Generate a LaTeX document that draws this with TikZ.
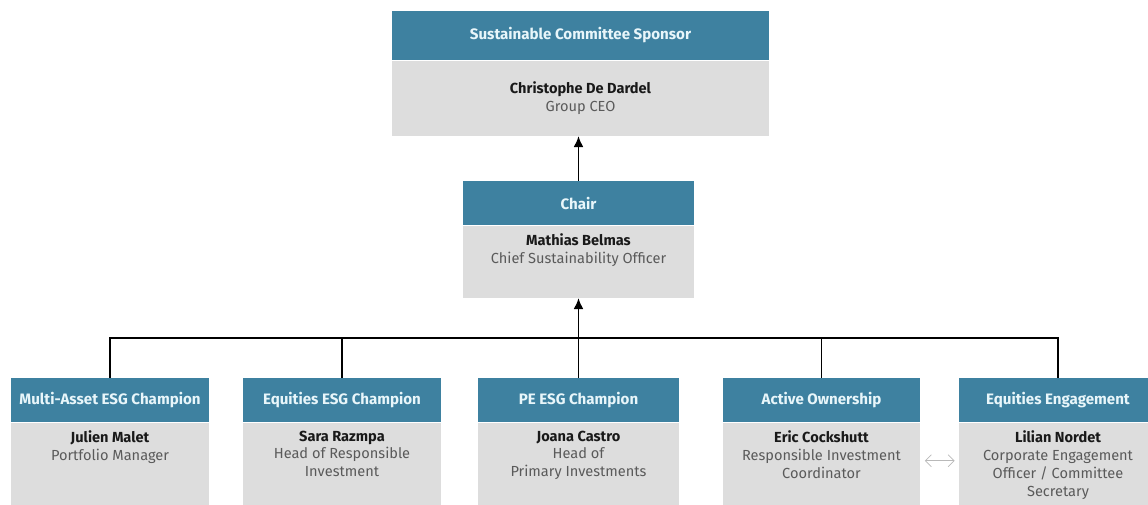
\documentclass[tikz,border=0pt]{standalone}
\usepackage{fontspec}
\setmainfont{Fira Sans}
\usepackage{xcolor}
\usepackage{tikz}
\usetikzlibrary{arrows.meta,positioning,calc}
\definecolor{headblue}{RGB}{62,129,160}
\definecolor{headtext}{RGB}{232,246,250}
\definecolor{boxgrey}{RGB}{221,221,221}
\definecolor{roletext}{RGB}{90,90,90}
\definecolor{nametext}{RGB}{25,25,25}
\definecolor{swapgrey}{RGB}{185,185,185}

\begin{document}
\begin{tikzpicture}[x=0.02cm,y=-0.02cm,
header/.style={fill=headblue,text=headtext,font=\fontsize{8.6}{10}\selectfont\bfseries,minimum width=3.96cm,minimum height=0.88cm,inner sep=0pt},
body/.style={fill=boxgrey,minimum width=3.96cm,minimum height=1.9cm,inner sep=0pt},
info/.style={align=center,font=\fontsize{8.3}{10.2}\selectfont,text=roletext,inner sep=0pt},
arr/.style={-{Latex[length=2.2mm,width=2mm]},line width=1.1pt},
link/.style={line width=1.1pt},
swap/.style={{Straight Barb[length=1.2mm]}-{Straight Barb[length=1.2mm]},draw=swapgrey,thin}
]
\useasboundingbox (0,0) rectangle (1148,504);
\clip (0,0) rectangle (1148,504);

% sponsor and chair
\node[header,minimum width=7.54cm,minimum height=0.98cm] (sponsor) at (580.5,35.5) {Sustainable Committee Sponsor};
\node[body,minimum width=7.54cm,minimum height=1.5cm,below=0pt of sponsor] (sponsorbody) {};
\node[info] at (sponsorbody) {{\bfseries\color{nametext}Christophe De Dardel}\\Group CEO};

\node[header,minimum width=4.62cm] (chair) at (578.5,203) {Chair};
\node[body,minimum width=4.62cm,minimum height=1.44cm,below=0pt of chair] (chairbody) {};
\node[info,below=1.6mm of chairbody.north] {{\bfseries\color{nametext}Mathias Belmas}\\Chief Sustainability Officer};

% champions
\node[header] (multi) at (110,400) {Multi-Asset ESG Champion};
\node[body,below=0pt of multi] (multibody) {};
\node[info,below=1.6mm of multibody.north] {{\bfseries\color{nametext}Julien Malet}\\Portfolio Manager};

\node[header] (equity) at (342,400) {Equities ESG Champion};
\node[body,below=0pt of equity] (equitybody) {};
\node[info,below=1.6mm of equitybody.north] {{\bfseries\color{nametext}Sara Razmpa}\\Head of Responsible\\Investment};

\node[header,minimum width=4.02cm] (pe) at (578.5,400) {PE ESG Champion};
\node[body,minimum width=4.02cm,below=0pt of pe] (pebody) {};
\node[info,below=1.6mm of pebody.north] {{\bfseries\color{nametext}Joana Castro}\\Head of\\Primary Investments};

\node[header] (owner) at (821.5,400) {Active Ownership};
\node[body,below=0pt of owner] (ownerbody) {};
\node[info,below=1.6mm of ownerbody.north] {{\bfseries\color{nametext}Eric Cockshutt}\\Responsible Investment\\Coordinator};

\node[header] (engage) at (1058,400) {Equities Engagement};
\node[body,below=0pt of engage] (engagebody) {};
\node[info,below=1.6mm of engagebody.north] {{\bfseries\color{nametext}Lilian Nordet}\\Corporate Engagement\\Officer / Committee\\Secretary};

% connectors
\coordinate (bus) at (578.5,338);
\draw[link] (multi.north) |- (bus) -| (engage.north);
\draw[link] (equity.north) -- (equity.north |- bus);
\draw[link] (pe.north) -- (bus);
\draw[link] (owner.north) -- (owner.north |- bus);
\draw[arr] (bus) -- (chairbody.south);
\draw[arr] (chair.north) -- (chair.north |- sponsorbody.south);
\draw[swap] ([shift={(4,-9.5)}]ownerbody.east) -- ([shift={(-4,-9.5)}]engagebody.west);
\end{tikzpicture}
\end{document}
